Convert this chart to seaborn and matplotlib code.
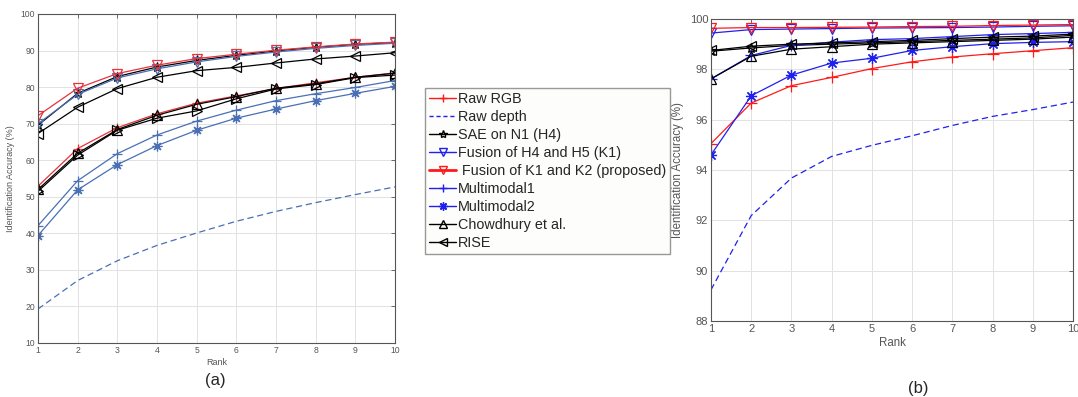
import matplotlib
matplotlib.use("Agg")
import matplotlib.pyplot as plt
import seaborn as sns
import pandas as pd
from matplotlib.lines import Line2D

sns.set_style("white")
plt.rcParams['font.family'] = ['Liberation Sans', 'DejaVu Sans']

ranks = [1, 2, 3, 4, 5, 6, 7, 8, 9, 10]
labels = ["Raw RGB", "Raw depth", "SAE on N1 (H4)", "Fusion of H4 and H5 (K1)",
          " Fusion of K1 and K2 (proposed)", "Multimodal1", "Multimodal2",
          "Chowdhury et al.", "RISE"]

# panel (a)
rgb_a = [52.9, 63.2, 68.9, 72.7, 75.6, 77.6, 79.6, 81.2, 82.7, 83.9]
depth_a = [19.3, 27.1, 32.5, 36.7, 40.1, 43.3, 46.0, 48.4, 50.6, 52.7]
sae_a = [69.6, 78.3, 82.9, 85.5, 87.3, 88.7, 89.9, 90.9, 91.7, 92.2]
k1_a = [70.0, 78.0, 82.5, 85.0, 86.9, 88.4, 89.6, 90.6, 91.4, 92.0]
k1k2_a = [72.2, 79.7, 83.7, 86.0, 87.8, 89.0, 90.1, 91.0, 91.8, 92.3]
mm1_a = [42.1, 54.4, 61.8, 66.9, 70.7, 73.7, 76.3, 78.2, 79.9, 81.8]
mm2_a = [39.4, 51.9, 58.8, 64.0, 68.2, 71.5, 74.0, 76.3, 78.3, 80.2]
chow_a = [52.0, 61.9, 68.4, 72.3, 75.3, 77.4, 79.7, 80.9, 82.7, 83.8]
rise_a = [67.3, 74.5, 79.6, 82.7, 84.5, 85.4, 86.6, 87.7, 88.5, 89.4]
other_a = [51.5, 61.4, 68.2, 71.5, 73.5, 76.8, 79.5, 80.7, 82.6, 83.3]

# panel (b)
rgb_b = [95.05, 96.66, 97.35, 97.68, 98.03, 98.30, 98.49, 98.62, 98.74, 98.86]
depth_b = [89.24, 92.19, 93.68, 94.54, 94.98, 95.36, 95.77, 96.13, 96.40, 96.70]
sae_b = [98.72, 98.85, 98.95, 99.00, 99.05, 99.10, 99.15, 99.20, 99.25, 99.35]
k1_b = [99.44, 99.58, 99.60, 99.62, 99.64, 99.65, 99.66, 99.68, 99.71, 99.73]
k1k2_b = [99.63, 99.66, 99.66, 99.67, 99.68, 99.70, 99.71, 99.74, 99.76, 99.78]
mm1_b = [97.62, 98.55, 98.95, 99.08, 99.18, 99.22, 99.30, 99.38, 99.42, 99.47]
mm2_b = [94.60, 96.95, 97.77, 98.25, 98.44, 98.75, 98.90, 99.02, 99.07, 99.10]
chow_b = [97.62, 98.52, 98.80, 98.90, 99.00, 99.05, 99.10, 99.15, 99.20, 99.28]
rise_b = [98.75, 98.92, 99.00, 99.05, 99.10, 99.15, 99.22, 99.28, 99.32, 99.40]

red_a, blue_a = "#e8333a", "#4a6fb5"
red_b, blue_b = "#ff1a1a", "#2020ee"
AST = (8, 2, 0)   # asterisk marker

fig = plt.figure(figsize=(10.78, 3.97), dpi=100)
axA = fig.add_axes([38/1078, 1-343/397, (395-38)/1078, (343-14)/397])
axB = fig.add_axes([711/1078, 1-321/397, (1073-711)/1078, (321-19)/397])

def draw(ax, x, y, color, marker, ls="-", ms=6, lw=0.9, mew=0.9):
    sns.lineplot(x=x, y=y, ax=ax, color=color, marker=marker, linestyle=ls,
                 markersize=ms, linewidth=lw, markerfacecolor="none",
                 markeredgecolor=color, markeredgewidth=mew)

seriesA = [
    (rgb_a, red_a, "+", "-"), (depth_a, blue_a, None, (0, (5, 3))),
    (sae_a, "black", "*", "-"), (k1_a, blue_a, "v", "-"),
    (k1k2_a, red_a, "v", "-"), (mm1_a, blue_a, "+", "-"),
    (mm2_a, blue_a, AST, "-"), (chow_a, "black", "^", "-"),
    (rise_a, "black", "<", "-"), (other_a, "black", ">", "-"),
]
for y, c, m, ls in seriesA:
    draw(axA, ranks, y, c, m, ls, ms=7 if m in ("+", AST) else 6.5)

seriesB = [
    (rgb_b, red_b, "+", "-"), (depth_b, blue_b, None, (0, (5, 3))),
    (sae_b, "black", "*", "-"), (k1_b, blue_b, "v", "-"),
    (k1k2_b, red_b, "v", "-"), (mm1_b, blue_b, "+", "-"),
    (mm2_b, blue_b, AST, "-"), (chow_b, "black", "^", "-"),
    (rise_b, "black", "<", "-"),
]
for y, c, m, ls in seriesB:
    draw(axB, ranks, y, c, m, ls, ms=8 if m in ("+", AST) else 7)

for ax, ylim, yt, fs in [(axA, (10, 100), range(10, 101, 10), 6.2),
                         (axB, (88, 100), range(88, 101, 2), 8)]:
    ax.set_xlim(1, 10)
    ax.set_ylim(*ylim)
    ax.set_xticks(ranks)
    ax.set_yticks(list(yt))
    ax.grid(True, color="#e2e2e2", linewidth=0.7)
    ax.tick_params(direction="in", length=3, width=0.6, colors="#555555",
                   labelsize=fs, top=True, right=True, pad=2)
    for s in ax.spines.values():
        s.set_color("#555555")
        s.set_linewidth(0.8)
    ax.set_xlabel("Rank", fontsize=fs + 0.3, color="#555555", labelpad=2)
    ax.set_ylabel("Identification Accuracy (%)", fontsize=fs + 0.3,
                  color="#555555", labelpad=4)

fig.text(215/1078, 1-381/397, "(a)", fontsize=12, ha="center", va="center")
fig.text(918/1078, 1-388/397, "(b)", fontsize=12, ha="center", va="center")

leg_specs = [
    (red_b, "+", "-", 1.0), (blue_b, None, (0, (3, 2)), 1.0),
    ("black", "*", "-", 1.0), (blue_b, "v", "-", 1.0),
    (red_b, "v", "-", 2.0), (blue_b, "+", "-", 1.0),
    (blue_b, AST, "-", 1.0), ("black", "^", "-", 1.0),
    ("black", "<", "-", 1.0),
]
handles = [Line2D([0], [0], color=c, marker=m, linestyle=ls, linewidth=lw,
                  markersize=6, markerfacecolor="none", markeredgecolor=c)
           for c, m, ls, lw in leg_specs]
fig.legend(handles, labels, loc="upper left",
           bbox_to_anchor=(425/1078, 1-88/397), fontsize=10.4,
           frameon=True, fancybox=False, edgecolor="#999999",
           facecolor="#fdfdfb", framealpha=1, handlelength=1.9,
           handletextpad=0.1, labelspacing=0.28, borderpad=0.28,
           borderaxespad=0)

fig.savefig("out.png", dpi=100)
